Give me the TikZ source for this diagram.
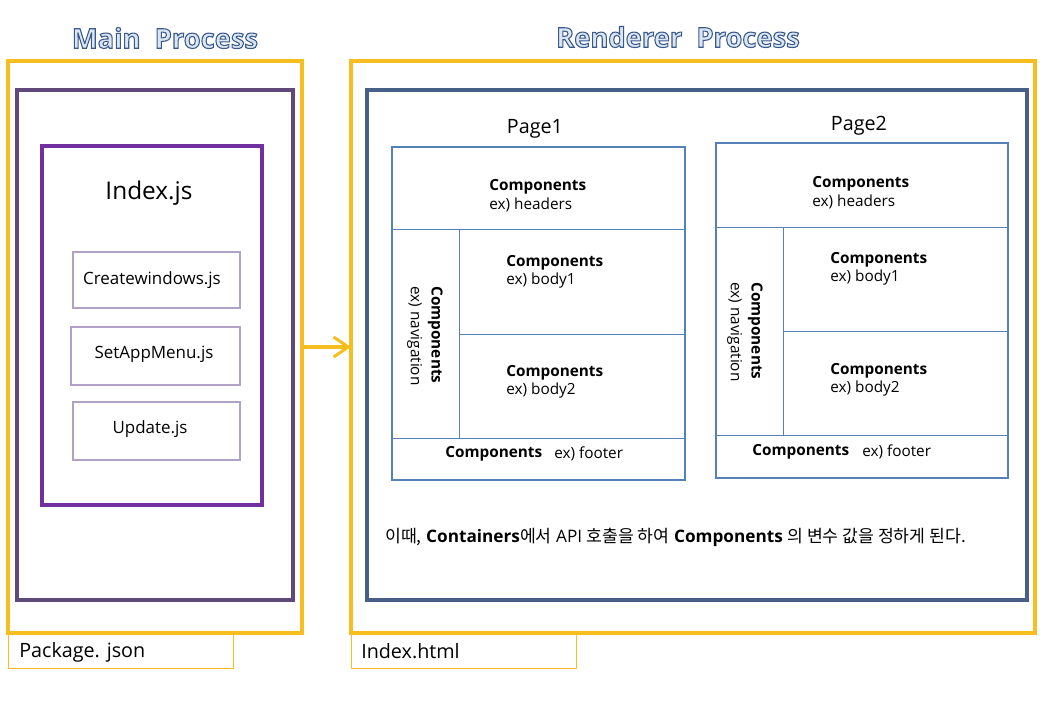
\documentclass[tikz,border=0pt]{standalone}
\usepackage{fontspec}
\setmainfont{Open Sans}
\newfontfamily\kr{Noto Sans CJK KR}
\usetikzlibrary{arrows.meta,fit}
\definecolor{ylw}{RGB}{246,190,30}
\definecolor{purpA}{RGB}{96,73,122}
\definecolor{purpB}{RGB}{112,48,160}
\definecolor{purpC}{RGB}{178,161,199}
\definecolor{dblue}{RGB}{70,96,135}
\definecolor{pblue}{RGB}{86,128,184}
\definecolor{ttlfill}{RGB}{220,230,242}
\newcommand\outl[1]{\textcolor{ttlfill}{\special{pdf:literal direct 2 Tr 0.8 w 0.22 0.35 0.55 RG}#1\special{pdf:literal direct 0 Tr 0.4 w}}}
\begin{document}
\begin{tikzpicture}[x=0.75pt,y=-0.75pt,
  bx/.style={draw, inner sep=0pt, outer sep=0pt},
  ybox/.style={bx, draw=ylw, line width=2.3pt},
  ylbl/.style={bx, draw=ylw, line width=0.75pt},
  pbox/.style={bx, draw=pblue, line width=2.2pt},
  sep/.style={draw=pblue, line width=0.75pt},
  fbox/.style={bx, draw=purpC, line width=2.2pt},
  ftxt/.style={font=\fontsize{12.7}{15}\selectfont},
  ttl/.style={font=\fontsize{20.5}{24}\selectfont\bfseries},
  comp/.style={font=\fontsize{11.5}{15.5}\selectfont, inner sep=0pt},
  lbl/.style={font=\fontsize{14.8}{18}\selectfont, anchor=west, inner sep=0pt}
]
\useasboundingbox (0,0) rectangle (1047,711);
% titles
\node[ttl] (tmain) at (165,38) {\outl{Main\ \ Process}};
\node[ttl] (trend) at (678,37) {\outl{Renderer\ \ Process}};
% main process
\node[ybox, fit={(8,61) (302,633)}] (mainbox) {};
\node[ylbl, fit={(8,633) (233,668)}] (pkgbox) {};
\node[lbl] (pkg) at (19,652) {Package. json};
\node[bx, draw=purpA, line width=2.3pt, fit={(17,90) (293,600)}] (mwin) {};
\node[bx, draw=purpB, line width=2.3pt, fit={(42,146) (262,505)}] (idxbox) {};
\node[font=\fontsize{18.3}{22}\selectfont] (idx) at (149,193) {Index.js};
\node[fbox, fit={(73,252) (240,308)}] (cw) {};
\node[ftxt] (cwtxt) at (152,280) {Createwindows.js};
\node[fbox, fit={(71,327) (240,385)}] (sam) {};
\node[ftxt] (samtxt) at (154,354) {SetAppMenu.js};
\node[fbox, fit={(73,402) (240,460)}] (upd) {};
\node[ftxt] (updtxt) at (150,429) {Update.js};
% renderer
\node[ybox, fit={(351,61) (1035,633)}] (rendbox) {};
\node[ylbl, fit={(351,633) (576,668)}] (htmlbox) {};
\node[lbl] (html) at (361,651) {Index.html};
\node[bx, draw=dblue, line width=2.3pt, fit={(367,90) (1027,600)}] (rwin) {};
% arrow
\draw[draw=ylw, line width=2.3pt, -{Straight Barb[length=11pt,width=15pt,line width=2.3pt]}] (mainbox.east |- 0,347) -- (rendbox.west |- 0,347);
% Page 1
\node[font=\fontsize{14.8}{17}\selectfont] (pg1) at (535,129) {Page1};
\node[pbox, fit={(392,147) (685,480)}] (p1) {};
\draw[sep] (p1.west |- 0,229) -- (p1.east |- 0,229);
\draw[sep] (p1.west |- 0,438) -- (p1.east |- 0,438);
\draw[sep] (459,229) -- (459,438);
\draw[sep] (459,334) -- (p1.east |- 0,334);
\node[comp, anchor=west] (p1h1) at (489,187) {\textbf{Components}};
\node[comp, anchor=west] (p1h2) at (489,205) {ex) headers};
\node[comp, anchor=west] (p1b1) at (506,263) {\textbf{Components}};
\node[comp, anchor=west] (p1b2) at (506,281) {ex) body1};
\node[comp, anchor=west] (p1c1) at (506,373) {\textbf{Components}};
\node[comp, anchor=west] (p1c2) at (506,391) {ex) body2};
\node[comp, rotate=-90, align=left] (p1n) at (425,336) {\textbf{Components}\\ex) navigation};
\node[comp, anchor=west] (p1f1) at (445,454) {\textbf{Components}};
\node[comp, anchor=west] (p1f2) at (554,454) {ex) footer};
% Page 2
\node[font=\fontsize{14.8}{17}\selectfont] (pg2) at (859,126) {Page2};
\node[pbox, fit={(716,143) (1008,478)}] (p2) {};
\draw[sep] (p2.west |- 0,227) -- (p2.east |- 0,227);
\draw[sep] (p2.west |- 0,435) -- (p2.east |- 0,435);
\draw[sep] (783,227) -- (783,435);
\draw[sep] (783,331) -- (p2.east |- 0,331);
\node[comp, anchor=west] (p2h1) at (812,184) {\textbf{Components}};
\node[comp, anchor=west] (p2h2) at (812,202) {ex) headers};
\node[comp, anchor=west] (p2b1) at (830,260) {\textbf{Components}};
\node[comp, anchor=west] (p2b2) at (830,278) {ex) body1};
\node[comp, anchor=west] (p2c1) at (830,371) {\textbf{Components}};
\node[comp, anchor=west] (p2c2) at (830,389) {ex) body2};
\node[comp, rotate=-90, align=left] (p2n) at (745,332) {\textbf{Components}\\ex) navigation};
\node[comp, anchor=west] (p2f1) at (752,452) {\textbf{Components}};
\node[comp, anchor=west] (p2f2) at (862,452) {ex) footer};
% note
\node[font=\fontsize{12.9}{16}\selectfont, anchor=west, inner sep=0pt] (note) at (385,537) {{\kr 이때,} \textbf{Containers}{\kr 에서} API {\kr 호출을 하여} \textbf{Components} {\kr 의 변수 값을 정하게 된다.}};
\end{tikzpicture}
\end{document}
